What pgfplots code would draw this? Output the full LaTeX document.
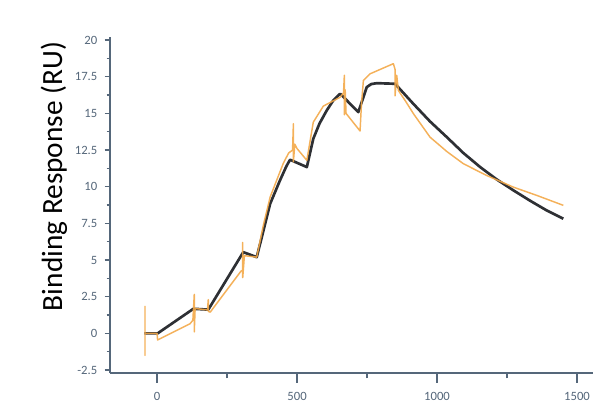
\documentclass[border=0pt]{standalone}
\usepackage{fontspec}
\setmainfont{Carlito}
\usepackage{pgfplots}
\pgfplotsset{compat=1.18}
\definecolor{axcol}{HTML}{55677A}
\definecolor{fitcol}{HTML}{2E3034}
\definecolor{datcol}{HTML}{F3A848}
\pgfplotstableread{
x y
-43 0
-43 1.84
-43 -1.5
-43 0
0 0
2 -0.45
118 0.66
128 0.9
133 2.66
133 0.1
136 1.7
180 1.6
183 2.3
183 1.5
190 1.45
300 4.25
306 4.3
306 6.2
306 3.8
312 5.3
356 5.2
380 7.4
404 9.3
451 11.6
470 12.3
484 12.5
487 14.3
487 11.7
492 12.9
500 12.6
535 11.8
558 14.4
594 15.5
654 16.1
666 16.4
669 17.6
669 14.9
672 16.6
675 15.0
725 13.8
730 15.6
737 17.25
761 17.7
844 18.39
850 18.0
850 16.2
856 17.6
862 16.56
886 15.88
916 14.97
975 13.38
1035 12.4
1094 11.57
1177 10.77
1273 9.97
1356 9.41
1451 8.73
}\datatab
\pgfplotstableread{
x y
-45 0
2 0
130 1.68
183 1.62
308 5.54
356 5.2
380 7.0
404 8.84
439 10.43
462 11.4
475 11.84
535 11.34
558 13.27
580 14.3
606 15.2
630 15.9
654 16.34
719 15.09
749 16.79
765 17.0
785 17.06
850 17.02
915 15.66
975 14.45
1035 13.38
1094 12.3
1154 11.34
1213 10.5
1273 9.75
1332 9.05
1392 8.38
1451 7.82
}\fittab
\begin{document}
\begin{tikzpicture}
\useasboundingbox (0,0) rectangle (444.75pt,305.25pt);
\begin{axis}[
 at={(82.5pt,25.5pt)}, anchor=south west, scale only axis,
 width=362.25pt, height=251.9pt,
 xmin=-168, xmax=1557, ymin=-2.7, ymax=20.2,
 axis lines*=left, axis line style={axcol, line width=1.1pt},
 tick align=outside, tick style={axcol, line width=0.9pt},
 major tick length=4pt, minor tick length=2.5pt,
 xtick style={/pgfplots/major tick length=7.5pt, /pgfplots/minor tick length=4pt},
 xtick={0,500,1000,1500}, minor xtick={250,750,1250},
 xticklabels={0,500,1000,1500},
 ytick={-2.5,0,2.5,5,7.5,10,12.5,15,17.5,20},
 minor ytick={-1.25,1.25,3.75,6.25,8.75,11.25,13.75,16.25,18.75},
 yticklabels={-2.5,0,2.5,5,7.5,10,12.5,15,17.5,20},
 tick label style={font=\fontsize{9.5}{10}\selectfont, text=axcol},
 x tick label style={yshift=-7pt},
 y tick label style={xshift=-2pt},
 clip=false,
]
\addplot[fitcol, line width=2pt, line join=round] table[x=x,y=y] {\fittab};
\addplot[datcol, opacity=0.9, line width=1.1pt, line join=round] table[x=x,y=y] {\datatab};
\end{axis}
\node[rotate=90, anchor=base, font=\fontsize{22}{26}\selectfont] at (46.5pt,172.9pt) {Binding Response (RU)};
\end{tikzpicture}
\end{document}
